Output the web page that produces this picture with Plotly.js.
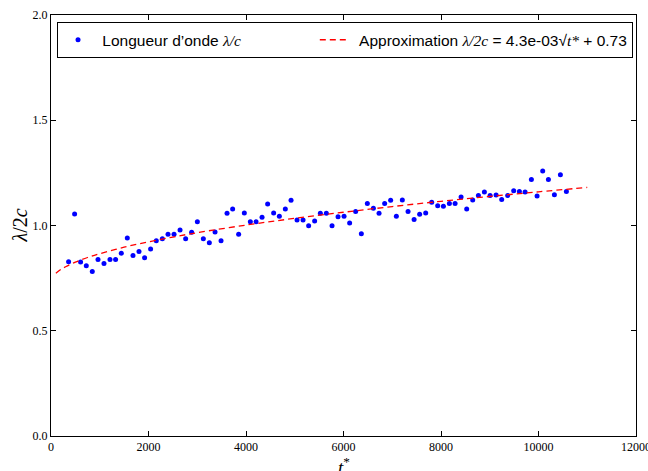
<!DOCTYPE html>
<html>
<head>
<meta charset="utf-8">
<script src="https://cdn.plot.ly/plotly-3.0.1.min.js"></script>
<style>html,body{margin:0;padding:0;background:#fff;}#chart{width:648px;height:471px;}</style>
</head>
<body>
<div id="chart"></div>
<script>
// Measured wavelength lambda/2c versus t*
const tStar = [361,484,607,724,847,964,1087,1210,1325,1442,1565,1682,1805,1920,2043,2160,2284,2400,2524,2647,2762,2885,3002,3125,3248,3365,3488,3611,3726,3849,3966,4089,4206,4329,4444,4567,4684,4807,4924,5047,5170,5285,5408,5525,5648,5765,5888,6011,6126,6249,6366,6489,6613,6729,6844,6967,7084,7207,7324,7448,7562,7686,7809,7932,8049,8172,8289,8412,8527,8650,8767,8890,9007,9130,9245,9368,9491,9608,9725,9854,9971,10086,10203,10326,10449,10572];
const lambdaVals = [0.828,1.055,0.827,0.809,0.781,0.838,0.819,0.839,0.839,0.868,0.941,0.858,0.877,0.847,0.888,0.928,0.937,0.958,0.958,0.979,0.937,0.968,1.018,0.937,0.918,0.969,0.928,1.058,1.078,0.958,1.059,1.018,1.018,1.039,1.102,1.059,1.044,1.078,1.120,1.026,1.026,0.999,1.021,1.058,1.058,0.999,1.042,1.044,1.012,1.066,0.961,1.104,1.082,1.058,1.105,1.120,1.044,1.121,1.066,1.029,1.053,1.059,1.110,1.094,1.091,1.104,1.105,1.135,1.078,1.121,1.142,1.159,1.142,1.145,1.124,1.142,1.165,1.162,1.159,1.219,1.140,1.259,1.219,1.146,1.241,1.162];

// Approximation curve points (4.3e-03*sqrt(t*) + 0.73), read at sample t*
const fitT = [100,200,300,500,750,1000,1500,2000,2500,3000,4000,5000,6000,7000,8000,9000,10000,11000];
const fitVals = [0.773,0.791,0.804,0.826,0.848,0.866,0.897,0.922,0.945,0.966,1.002,1.034,1.063,1.090,1.115,1.138,1.160,1.181];

const xTicks = [0,2000,4000,6000,8000,10000,12000];
const yTicks = [0.0,0.5,1.0,1.5,2.0];
const xLabel = '<i>t</i><sup>*</sup>';
const yLabel = '<i>λ</i>/2<i>c</i>';

const serif = 'Liberation Serif, DejaVu Serif, serif';
const sans = 'Liberation Sans, Arial, sans-serif';
const m = (s) => '<span style="font-family:Liberation Serif;font-style:italic">' + s + '</span>';
const pad = '\u00a0'.repeat(16);

const traces = [
  {
    x: tStar, y: lambdaVals, type: 'scatter', mode: 'markers',
    name: '\u00a0Longueur d\u2019onde ' + m('λ/c') + pad,
    marker: {color: '#0000ff', size: 5, line: {width: 0}}
  },
  {
    x: fitT, y: fitVals, type: 'scatter', mode: 'lines',
    name: '\u00a0Approximation ' + m('λ/2c') + ' = 4.3e-03√' + m('t*') + ' + 0.73',
    line: {color: '#ff0000', width: 1.3, dash: '6px,4px', shape: 'spline'}
  }
];

const axisCommon = {
  showgrid: false, zeroline: false, showline: true, linecolor: '#000', linewidth: 1,
  mirror: 'ticks', ticks: 'inside', ticklen: 5, tickcolor: '#000', tickwidth: 1,
  tickfont: {family: serif, size: 12, color: '#000'}, ticklabeloverflow: 'allow'
};

const layout = {
  width: 648, height: 471,
  margin: {l: 51, r: 12, t: 15, b: 35},
  paper_bgcolor: '#fff', plot_bgcolor: '#fff',
  showlegend: true,
  xaxis: Object.assign({}, axisCommon, {
    range: [0, 12000], tickvals: xTicks, ticktext: xTicks.map(String)
  }),
  yaxis: Object.assign({}, axisCommon, {
    range: [0, 2.0], tickvals: yTicks, ticktext: yTicks.map(v => v.toFixed(1))
  }),
  annotations: [
    {text: xLabel, xref: 'paper', yref: 'paper', x: 0.5, y: -0.071, xanchor: 'center', yanchor: 'middle',
     showarrow: false, font: {family: serif, size: 19, color: '#000'}},
    {text: yLabel, xref: 'paper', yref: 'paper', x: -0.053, y: 0.5, xanchor: 'center', yanchor: 'middle',
     textangle: -90, showarrow: false, font: {family: serif, size: 20, color: '#000'}}
  ],
  legend: {
    orientation: 'h', x: 0.0103, y: 0.983, xanchor: 'left', yanchor: 'top',
    bgcolor: '#fff', bordercolor: '#000', borderwidth: 1,
    font: {family: sans, size: 15.5, color: '#000'}
  }
};

Plotly.newPlot('chart', traces, layout, {displayModeBar: false, staticPlot: true});
</script>
</body>
</html>
